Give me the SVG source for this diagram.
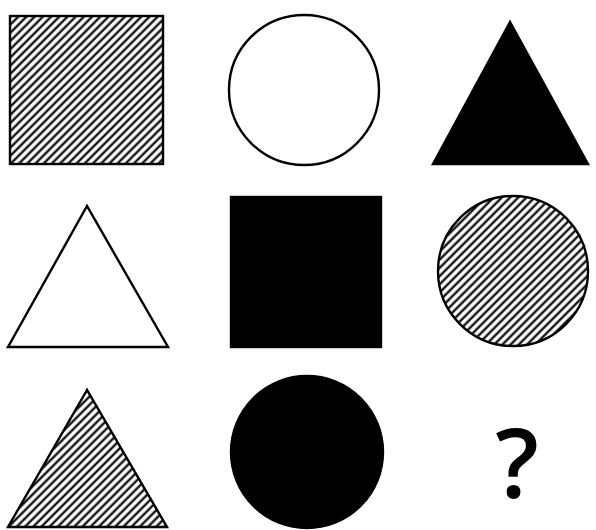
<svg xmlns="http://www.w3.org/2000/svg" width="596" height="530" viewBox="0 0 596 530">
<defs>
<pattern id="hatch" patternUnits="userSpaceOnUse" width="5.8" height="5.8" patternTransform="rotate(-45)">
<rect width="5.8" height="5.8" fill="#fff"/>
<line x1="0" y1="1.5" x2="5.8" y2="1.5" stroke="#000" stroke-width="2.2"/>
</pattern>
</defs>
<style>
.o{stroke:#000;stroke-width:2.4;stroke-linejoin:miter}
.h{fill:url(#hatch)}
.w{fill:#fff}
.b{fill:#000}
.q{font-family:"Open Sans","DejaVu Sans",sans-serif;font-size:96px;font-weight:600;fill:#000;text-anchor:middle}
</style>
<rect width="596" height="530" fill="#fff"/>
<g id="sq1"><rect class="o h" x="10" y="16" width="153" height="148" stroke-width="3"/></g>
<g id="ci1"><circle class="o w" cx="304" cy="90" r="75"/></g>
<g id="tr1"><polygon class="o b" points="510,22 433,164 588,164"/></g>
<g id="tr2"><polygon class="o w" points="87,206 8,347 168,347"/></g>
<g id="sq2"><rect class="o b" x="231" y="197" width="150" height="150"/></g>
<g id="ci2"><circle class="o h" cx="513" cy="271" r="75"/></g>
<g id="tr3"><polygon class="o h" points="87,390 8,527 167,527"/></g>
<g id="ci3"><circle class="o b" cx="307" cy="452" r="76"/></g>
<g id="qm"><text class="q" x="517" y="498">?</text></g>
</svg>
